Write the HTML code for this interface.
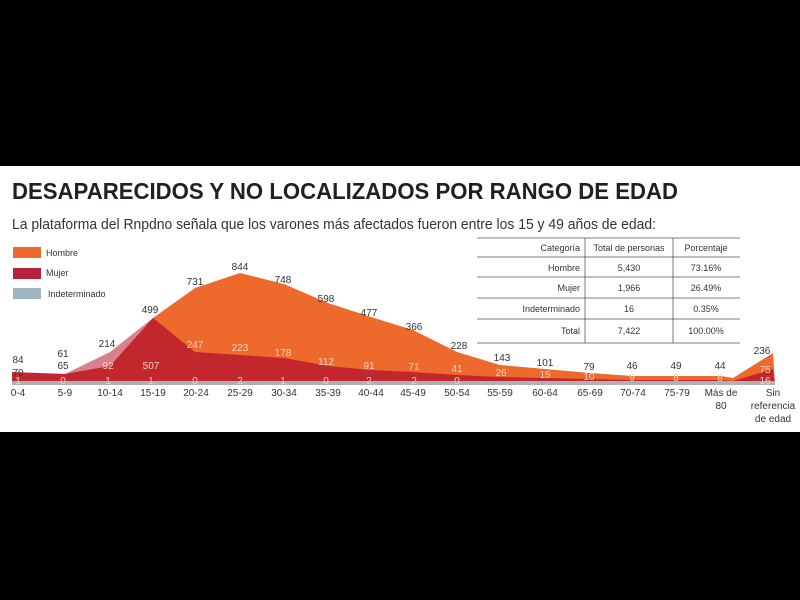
<!DOCTYPE html>
<html><head><meta charset="utf-8"><style>
body{margin:0;background:#000;width:800px;height:600px;overflow:hidden}
svg{display:block}
text{font-family:"Liberation Sans",sans-serif}
</style></head><body>
<svg width="800" height="600" viewBox="0 0 800 600">
<rect x="0" y="0" width="800" height="600" fill="#000"/>
<rect x="0" y="166" width="800" height="266" fill="#fff"/>
<text x="12" y="199" font-size="23" font-weight="bold" fill="#231f20" textLength="666" lengthAdjust="spacingAndGlyphs">DESAPARECIDOS Y NO LOCALIZADOS POR RANGO DE EDAD</text>
<text x="12" y="229" font-size="15" fill="#333" textLength="644" lengthAdjust="spacingAndGlyphs">La plataforma del Rnpdno señala que los varones más afectados fueron entre los 15 y 49 años de edad:</text>
<!-- legend -->
<rect x="13" y="247" width="28" height="11" fill="#ee6a2c"/>
<rect x="13" y="268" width="28" height="11" fill="#b5213f"/>
<rect x="13" y="288" width="28" height="11" fill="#9fb5c2"/>
<g font-size="9" fill="#333"><text x="46" y="256">Hombre</text><text x="46" y="276">Mujer</text><text x="48" y="297">Indeterminado</text></g>
<!-- table -->
<g stroke="#555" stroke-width="0.8">
<line x1="477" y1="238" x2="740" y2="238"/>
<line x1="477" y1="257" x2="740" y2="257"/>
<line x1="477" y1="277" x2="740" y2="277"/>
<line x1="477" y1="298" x2="740" y2="298"/>
<line x1="477" y1="319" x2="740" y2="319"/>
<line x1="477" y1="343" x2="740" y2="343"/>
<line x1="585" y1="238" x2="585" y2="343"/>
<line x1="673" y1="238" x2="673" y2="343"/>
</g>
<g font-size="9" fill="#333">
<g text-anchor="end"><text x="580" y="251">Categoría</text><text x="580" y="271">Hombre</text><text x="580" y="291">Mujer</text><text x="580" y="312">Indeterminado</text><text x="580" y="334">Total</text></g>
<g text-anchor="middle"><text x="629" y="251">Total de personas</text><text x="629" y="271">5,430</text><text x="629" y="291">1,966</text><text x="629" y="312">16</text><text x="629" y="334">7,422</text>
<text x="706" y="251">Porcentaje</text><text x="706" y="271">73.16%</text><text x="706" y="291">26.49%</text><text x="706" y="312">0.35%</text><text x="706" y="334">100.00%</text></g>
</g>
<!-- areas -->
<polygon fill="#d9818a" points="12,384 12,373 65,374 110,352 153,318 160,384"/>
<polygon fill="#ee6a2c" points="153,318 195,288 240,273 284,284 328,303 371,317 413,330 457,352 500,365 545,369 590,373 633,376 677,376 721,376 733,378 773,353 775,384 153,384"/>
<polygon fill="#c1272d" points="12,384 12,372 65,374 110,366 153,318 195,352 240,355 284,358 328,366 371,370 413,372 457,375 500,377 545,378 590,379 633,380 721,380 733,381 773,369 775,384"/>
<rect x="12" y="381" width="763" height="4" fill="#a7b3bd"/>
<!-- hombre labels -->
<g font-size="10" fill="#333" text-anchor="middle">
<text x="18" y="363">84</text><text x="63" y="357">61</text><text x="107" y="347">214</text><text x="150" y="313">499</text><text x="195" y="285">731</text><text x="240" y="270">844</text><text x="283" y="283">748</text><text x="326" y="302">598</text><text x="369" y="316">477</text><text x="414" y="330">366</text><text x="459" y="349">228</text><text x="502" y="361">143</text><text x="545" y="366">101</text><text x="589" y="370">79</text><text x="632" y="369">46</text><text x="676" y="369">49</text><text x="720" y="369">44</text><text x="762" y="354">236</text>
<text x="18" y="376">70</text><text x="63" y="369">65</text>
</g>
<g font-size="10" fill="#f7d0c0" text-anchor="middle">
<text x="108" y="369">92</text><text x="151" y="369">507</text><text x="195" y="348">247</text><text x="240" y="351">223</text><text x="283" y="356">178</text><text x="326" y="365">112</text><text x="369" y="369">91</text><text x="414" y="370">71</text><text x="457" y="372">41</text><text x="501" y="376">26</text><text x="545" y="378">15</text><text x="589" y="380">10</text><text x="632" y="381">9</text><text x="676" y="381">8</text><text x="720" y="381">8</text><text x="765" y="373">75</text>
<text x="18" y="384">1</text><text x="63" y="384">0</text><text x="108" y="384">1</text><text x="151" y="384">1</text><text x="195" y="384">0</text><text x="240" y="384">2</text><text x="283" y="384">1</text><text x="326" y="384">0</text><text x="369" y="384">2</text><text x="414" y="384">2</text><text x="457" y="384">0</text><text x="765" y="384">16</text>
</g>
<g font-size="10" fill="#333" text-anchor="middle">
<text x="18" y="396">0-4</text><text x="65" y="396">5-9</text><text x="110" y="396">10-14</text><text x="153" y="396">15-19</text><text x="196" y="396">20-24</text><text x="240" y="396">25-29</text><text x="284" y="396">30-34</text><text x="328" y="396">35-39</text><text x="371" y="396">40-44</text><text x="413" y="396">45-49</text><text x="457" y="396">50-54</text><text x="500" y="396">55-59</text><text x="545" y="396">60-64</text><text x="590" y="396">65-69</text><text x="633" y="396">70-74</text><text x="677" y="396">75-79</text><text x="721" y="396">Más de</text><text x="721" y="409">80</text>
<text x="773" y="396">Sin</text><text x="773" y="409">referencia</text><text x="773" y="422">de edad</text>
</g>
</svg>
</body></html>
